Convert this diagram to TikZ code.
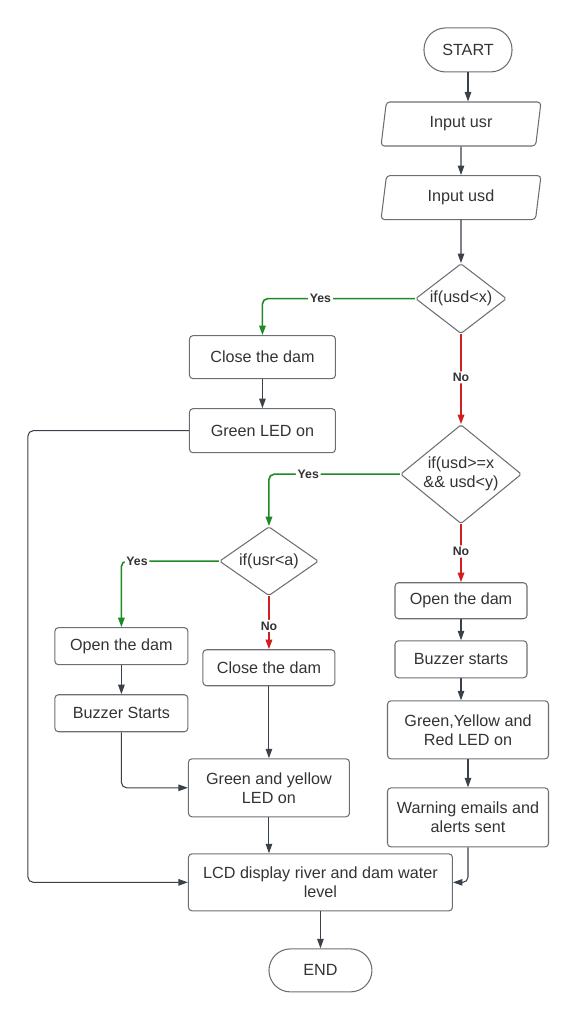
\documentclass[tikz,border=0pt]{standalone}
\usepackage{fontspec}
\setmainfont{Liberation Sans}
\usetikzlibrary{shapes,arrows.meta,positioning}
\definecolor{linegray}{HTML}{3A414A}
\definecolor{boxgray}{HTML}{6B6F75}
\definecolor{yesgreen}{HTML}{1F8A24}
\definecolor{nored}{HTML}{D01F1F}

\begin{document}
\begin{tikzpicture}[>={Triangle[length=1.9mm,width=1.3mm]},
            box/.style={rectangle,rounded corners=2pt,draw=boxgray,line width=0.6pt,align=center,
             font=\fontsize{9.2}{10.8}\selectfont,text=black!80,
             minimum width=2.64cm,minimum height=0.72cm,inner sep=2pt},
            term/.style={box,rounded corners=4.3mm,minimum width=1.76cm,minimum height=0.88cm},
            io/.style={box,trapezium,trapezium left angle=76,trapezium right angle=104,
             trapezium stretches body,minimum width=3.2cm,minimum height=0.88cm},
            decision/.style={box,diamond,rounded corners=1pt,inner sep=0pt},
            flow/.style={->,color=linegray,line width=0.6pt,rounded corners=3pt},
            yes/.style={flow,color=yesgreen,line width=0.9pt},
            no/.style={flow,color=nored,line width=0.9pt},
            tag/.style={fill=white,inner sep=1pt,font=\bfseries\fontsize{7}{8}\selectfont,text=black!80}]

            \useasboundingbox (0,0) rectangle (11.58,-20.48);

            \node[io] (usr) at (9.22,-2.48) {Input usr};
            \node[term] (start) [above=0.58cm of usr, xshift=0.14cm] {START};
            \node[io] (usd) [below=0.57cm of usr] {Input usd};
            \node[decision, aspect=1.3, minimum width=1.82cm, minimum height=1.4cm] (ifx) [below=0.86cm of usd] {if(usd<x)};
            \node[box, minimum width=2.92cm, minimum height=0.86cm] (close1) [left=1.58cm of ifx, yshift=-1.17cm] {Close the dam};
            \node[box, minimum width=2.92cm, minimum height=0.88cm] (greenled) [below=0.58cm of close1] {Green LED on};
            \node[decision, aspect=1.22, minimum width=2.42cm, minimum height=1.98cm] (ifxy) [below=1.8cm of ifx] {if(usd>=x\\\&\& usd<y)};
            \node[box] (openR) [below=1.16cm of ifxy] {Open the dam};
            \node[box, minimum height=0.74cm] (buzzR) [below=0.42cm of openR] {Buzzer starts};
            \node[box, minimum width=3.22cm, minimum height=1.16cm] (allled) [below=0.44cm of buzzR, xshift=0.14cm] {Green,Yellow and\\Red LED on};
            \node[box, minimum width=3.22cm, minimum height=1.18cm] (warn) [below=0.56cm of allled] {Warning emails and\\alerts sent};
            \node[decision, aspect=1.43, minimum width=1.98cm, minimum height=1.38cm] (ifa) [left=1.62cm of ifxy, yshift=-1.74cm] {if(usr<a)};
            \node[box, minimum width=2.66cm, minimum height=0.74cm] (openL) [left=0.61cm of ifa, yshift=-1.7cm] {Open the dam};
            \node[box, minimum width=2.66cm, minimum height=0.74cm] (buzzL) [below=0.58cm of openL] {Buzzer Starts};
            \node[box] (close2) [below=1.06cm of ifa] {Close the dam};
            \node[box, minimum width=3.22cm, minimum height=1.16cm] (gyled) [below=1.44cm of close2] {Green and yellow\\LED on};
            \node[box, minimum width=5.28cm, minimum height=1.14cm] (lcd) [below=0.72cm of gyled, xshift=1.03cm] {LCD display river and dam water\\level};
            \node[term, minimum width=2.06cm, minimum height=0.86cm] (end) [below=0.74cm of lcd] {END};

            \draw[flow] (start) -- (start |- usr.north);
            \draw[flow] (usr) -- (usd);
            \draw[flow] (usd) -- (ifx);
            \draw[yes] (ifx.west) -| node[tag, pos=0.31] {Yes} (close1.north);
            \draw[no] (ifx.south) -- node[tag, pos=0.48] {No} (ifxy.north);
            \draw[flow] (close1) -- (greenled);
            \draw[flow] (greenled.west) -- ++(-3.22,0) |- (lcd.west);

            \draw[yes] (ifxy.west) -| node[tag, pos=0.35] {Yes} (ifa.north);
            \draw[no] (ifxy.south) -- node[tag, pos=0.47] {No} (openR.north);
            \draw[flow] (openR) -- (buzzR);
            \draw[flow] (buzzR) -- (buzzR |- allled.north);
            \draw[flow] (allled) -- (warn);
            \draw[flow] (warn.south) |- (lcd.east);

            \draw[yes] (ifa.west) -| node[tag, pos=0.42] {Yes} (openL.north);
            \draw[no] (ifa.south) -- node[tag, pos=0.56] {No} (close2.north);
            \draw[flow] (openL) -- (buzzL);
            \draw[flow] (buzzL.south) |- (gyled.west);
            \draw[flow] (close2) -- (gyled);
            \draw[flow] (gyled) -- (gyled |- lcd.north);
            \draw[flow] (lcd) -- (end);

\end{tikzpicture}
\end{document}
